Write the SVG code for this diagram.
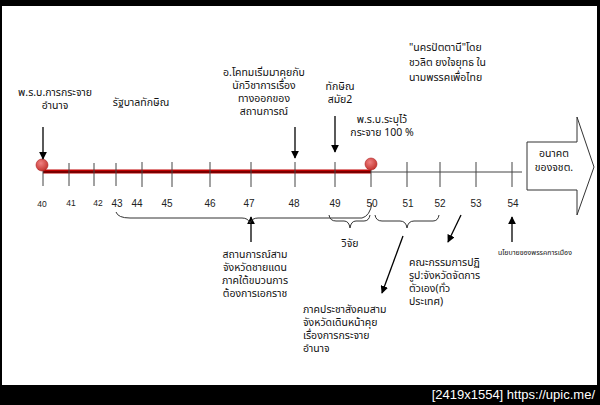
<svg xmlns="http://www.w3.org/2000/svg" width="600" height="405" viewBox="0 0 600 405">
<style>
.t{font-family:"Noto Sans Thai","Tahoma","DejaVu Sans","Liberation Sans",sans-serif;font-size:10.5px;fill:#111}
.n{font-family:"Liberation Sans","Open Sans",sans-serif;font-size:10px;fill:#222;text-anchor:middle}
.ns{font-size:8.5px}
.c{text-anchor:middle}
.tick{stroke:#444;stroke-width:1}
.ar{stroke:#000;stroke-width:1.3;fill:none;marker-end:url(#ah)}
.br{stroke:#333;stroke-width:1;fill:none}
</style>
<defs>
<marker id="ah" viewBox="0 0 10 10" refX="9" refY="5" markerWidth="6" markerHeight="6" orient="auto">
<path d="M0,0 L10,5 L0,10 z" fill="#000"/>
</marker>
<radialGradient id="rg" cx="0.4" cy="0.35" r="0.7">
<stop offset="0" stop-color="#f08080"/>
<stop offset="1" stop-color="#c0302a"/>
</radialGradient>
</defs>
<rect x="0" y="0" width="600" height="405" fill="#000"/>
<rect x="2" y="6" width="595" height="379" fill="#fff"/>
<text x="595" y="399" font-family="Liberation Sans, sans-serif" font-size="13" fill="#fff" text-anchor="end">[2419x1554] https://upic.me/</text>

<g id="timeline">
<line x1="43" y1="172" x2="522" y2="172" stroke="#444" stroke-width="1"/>
<line x1="43" y1="171.5" x2="371" y2="171.5" stroke="#c00000" stroke-width="4"/>
<line x1="43" y1="172" x2="371" y2="172" stroke="#300" stroke-width="1"/>
<g class="tick">
<line x1="43" y1="163" x2="43" y2="186"/>
<line x1="69" y1="163" x2="69" y2="186"/>
<line x1="94" y1="163" x2="94" y2="186"/>
<line x1="116" y1="163" x2="116" y2="186"/>
<line x1="142" y1="162" x2="142" y2="187"/>
<line x1="172" y1="162" x2="172" y2="187"/>
<line x1="210" y1="162" x2="210" y2="187"/>
<line x1="251" y1="162" x2="251" y2="187"/>
<line x1="295" y1="162" x2="295" y2="187"/>
<line x1="335" y1="162" x2="335" y2="187"/>
<line x1="371" y1="162" x2="371" y2="187"/>
<line x1="407" y1="162" x2="407" y2="187"/>
<line x1="440" y1="162" x2="440" y2="187"/>
<line x1="476" y1="162" x2="476" y2="187"/>
<line x1="512" y1="162" x2="512" y2="187"/>
</g>
<circle cx="42" cy="165" r="6" fill="url(#rg)" stroke="#b02020" stroke-width="0.6"/>
<circle cx="371" cy="164" r="6" fill="url(#rg)" stroke="#b02020" stroke-width="0.6"/>
<text class="n ns" x="42" y="207">40</text>
<text class="n ns" x="71" y="206">41</text>
<text class="n ns" x="98" y="206">42</text>
<text class="n" x="117" y="207">43</text>
<text class="n" x="137" y="207">44</text>
<text class="n" x="167" y="207">45</text>
<text class="n" x="210" y="207">46</text>
<text class="n" x="249" y="207">47</text>
<text class="n" x="294" y="207">48</text>
<text class="n" x="335" y="207">49</text>
<text class="n" x="372" y="207">50</text>
<text class="n" x="408" y="207">51</text>
<text class="n" x="440" y="207">52</text>
<text class="n" x="476" y="207">53</text>
<text class="n" x="513" y="207">54</text>
</g>

<g id="future">
<path d="M527,142 L577,142 L577,117 L594,167 L577,215 L577,190 L527,190 Z" fill="#fff" stroke="#333" stroke-width="1"/>
<text class="t c" x="554" y="157">อนาคต</text>
<text class="t c" x="554" y="171">ของจชต.</text>
</g>

<g id="n1">
<text class="t c" x="55" y="96">พ.ร.บ.การกระจาย</text>
<text class="t c" x="55" y="109">อำนาจ</text>
</g>
<g id="n2">
<text class="t c" x="141" y="106">รัฐบาลทักษิณ</text>
</g>
<g id="n3">
<text class="t c" x="264" y="76">อ.โคทมเริ่มมาคุยกับ</text>
<text class="t c" x="264" y="89">นักวิชาการเรื่อง</text>
<text class="t c" x="264" y="102">ทางออกของ</text>
<text class="t c" x="264" y="115">สถานการณ์</text>
</g>
<g id="n4">
<text class="t c" x="340" y="90">ทักษิณ</text>
<text class="t c" x="340" y="103">สมัย2</text>
</g>
<g id="n5">
<text class="t c" x="382" y="123">พ.ร.บ.ระบุไว้</text>
<text class="t c" x="382" y="136">กระจาย 100 %</text>
</g>
<g id="n6">
<text class="t" x="409" y="51">"นครปัตตานี"โดย</text>
<text class="t" x="409" y="66">ชวลิต ยงใจยุทธ ใน</text>
<text class="t" x="409" y="81">นามพรรคเพื่อไทย</text>
</g>
<g id="n7">
<text class="t c" x="255" y="258">สถานการณ์สาม</text>
<text class="t c" x="255" y="271">จังหวัดชายแดน</text>
<text class="t c" x="255" y="284">ภาคใต้ขบวนการ</text>
<text class="t c" x="255" y="297">ต้องการเอกราช</text>
</g>
<g id="n8">
<text class="t c" x="350" y="247">วิจัย</text>
</g>
<g id="n9">
<text class="t" x="303" y="313">ภาคประชาสังคมสาม</text>
<text class="t" x="303" y="326">จังหวัดเดินหน้าคุย</text>
<text class="t" x="303" y="339">เรื่องการกระจาย</text>
<text class="t" x="303" y="352">อำนาจ</text>
</g>
<g id="n10">
<text class="t" x="409" y="266">คณะกรรมการปฏิ</text>
<text class="t" x="409" y="279">รูป:จังหวัดจัดการ</text>
<text class="t" x="409" y="292">ตัวเอง(ทั่ว</text>
<text class="t" x="409" y="305">ประเทศ)</text>
</g>
<g id="n11">
<text class="t c" x="535" y="255" style="font-size:7px">นโยบายของพรรคการเมือง</text>
</g>

<g id="connectors">
<line class="ar" x1="43" y1="127" x2="43" y2="159"/>
<line class="ar" x1="295" y1="127" x2="295" y2="158"/>
<line class="ar" x1="335" y1="116" x2="335" y2="152"/>
<line class="ar" x1="251" y1="242" x2="251" y2="217"/>
<line class="ar" x1="403" y1="236" x2="382" y2="293"/>
<line class="ar" x1="461" y1="215" x2="448" y2="242"/>
<line class="ar" x1="512" y1="242" x2="512" y2="217"/>
<path class="br" d="M116,212 Q118,218 130,218 L242,218 Q248,218 250,223 Q252,218 258,218 L362,218 Q370,216 372,203"/>
<path class="br" d="M329,215 Q330,221 336,221 L344,221 Q349,221 350,228 Q351,221 356,221 L364,221 Q369,221 370,215"/>
<path class="br" d="M375,215 Q376,221 382,221 L400,221 Q406,221 407,228 Q408,221 414,221 L433,221 Q438,221 439,215"/>
</g>
</svg>
